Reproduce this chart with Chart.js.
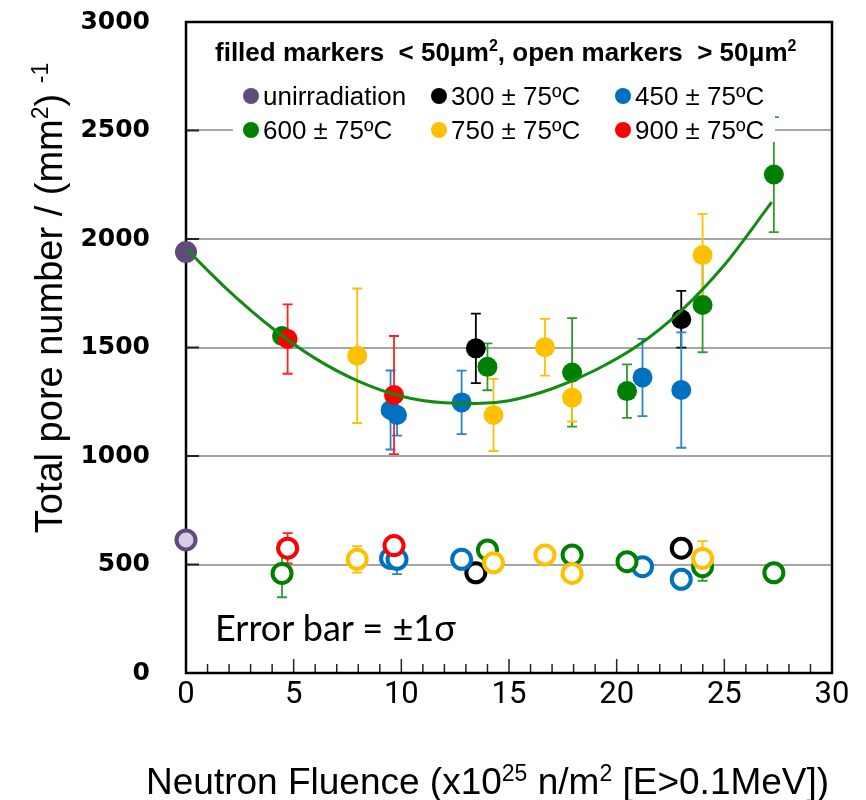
<!DOCTYPE html>
<html>
<head>
<meta charset="utf-8">
<script src="https://cdn.jsdelivr.net/npm/chart.js@4.4.1/dist/chart.umd.min.js"></script>
<style>
  body { margin: 0; background: #fff; }
  #wrap { position: relative; width: 866px; height: 800px; }
  .txt { position: absolute; white-space: nowrap; color: #000; font-family: "Liberation Sans", Arial, sans-serif; }
  .dot { position: absolute; width: 16px; height: 16px; border-radius: 50%; }
</style>
</head>
<body>
<div id="wrap">
  <canvas id="poreChart" width="866" height="800"></canvas>
  <div class="txt" id="yTitle" style="left:-260px;top:276px;width:600px;height:44px;line-height:44px;text-align:center;font-size:38px;transform:rotate(-90deg);">Total pore number / (mm<sup style="font-size:23px">2</sup>) <sup style="font-size:23px">-1</sup></div>
  <div class="txt" id="xTitle" style="left:146px;top:751px;font-size:37px;line-height:44px;">Neutron Fluence (x10<sup style="font-size:23px">25</sup> n/m<sup style="font-size:23px">2</sup> [E&gt;0.1MeV])</div>
  <div id="legendBox" style="position:absolute;left:233px;top:24px;width:542px;height:118px;background:#fff;"></div>
  <div class="txt" id="legendTitle" style="left:215px;top:30px;font-size:26px;line-height:32px;font-weight:bold;">filled markers&nbsp; &lt; 50μm<sup style="font-size:16px">2</sup>, open markers&nbsp; &gt; 50μm<sup style="font-size:16px">2</sup></div>
  <div class="txt" id="errNote" style="left:215px;top:606px;font-size:36px;line-height:42px;font-family:Lato,'Open Sans',sans-serif;">Error bar = ±1σ</div>
</div>
<script>
// group labels (temperature) and colours
const groupNames = ['unirradiation', '300 ± 75ºC', '450 ± 75ºC', '600 ± 75ºC', '750 ± 75ºC', '900 ± 75ºC'];
const groupColors = ['#604a7b', '#000000', '#0070c0', '#008000', '#ffc000', '#ff0000'];
const errColors = ['#604a7b', '#000000', '#2b82d0', '#2f9a2f', '#ffc000', '#ff2020'];

// fluence (x10^25 n/m^2) per group
const xUnirr = [0];
const x300 = [13.46, 23.0];
const x450 = [9.5, 9.8, 12.8, 21.2, 23.0];
const x600 = [4.46, 14.0, 17.93, 20.48, 23.99, 27.3];
const x750 = [7.95, 14.28, 16.67, 17.93, 23.99];
const x900 = [4.72, 9.66];

// filled markers (< 50 um2): pore number and 1 sigma
const yUnirrFilled = [1940];
const y300Filled = [1496, 1630];
const y450Filled = [1212, 1189, 1247, 1362, 1304];
const y600Filled = [1553, 1411, 1385, 1299, 1696, 2297];
const y750Filled = [1462, 1189, 1501, 1269, 1926];
const y900Filled = [1539, 1281];
const eUnirrFilled = [0];
const e300Filled = [160, 131];
const e450Filled = [182, 95, 146, 178, 266];
const e600Filled = [0, 108, 250, 123, 218, 265];
const e750Filled = [310, 166, 131, 110, 190];
const e900Filled = [160, 272];

// open markers (> 50 um2)
const yUnirrOpen = [613];
const y300Open = [462, 575];
const y450Open = [528, 524, 524, 490, 432];
const y600Open = [459, 567, 544, 513, 490, 462];
const y750Open = [524, 508, 544, 459, 528];
const y900Open = [575, 587];
const eUnirrOpen = [0];
const e300Open = [0, 0];
const e450Open = [0, 68, 0, 0, 0];
const e600Open = [110, 0, 0, 0, 65, 0];
const e750Open = [61, 0, 0, 0, 80];
const e900Open = [70, 0];

// fitted trend line
const fitFluence = [0, 2, 4, 6, 8, 10, 12, 13.5, 15, 17, 19, 21, 23, 25, 27.2];
const fitPores = [1955, 1760, 1590, 1450, 1345, 1275, 1245, 1242, 1255, 1310, 1395, 1510, 1670, 1880, 2170];

const yTicks = [0, 500, 1000, 1500, 2000, 2500, 3000];

function toPoints(xs, ys) {
    return xs.map((x, i) => ({ x: x, y: ys[i] }));
}

const groupX = [xUnirr, x300, x450, x600, x750, x900];
const groupFilled = [yUnirrFilled, y300Filled, y450Filled, y600Filled, y750Filled, y900Filled];
const groupFilledErr = [eUnirrFilled, e300Filled, e450Filled, e600Filled, e750Filled, e900Filled];
const groupOpen = [yUnirrOpen, y300Open, y450Open, y600Open, y750Open, y900Open];
const groupOpenErr = [eUnirrOpen, e300Open, e450Open, e600Open, e750Open, e900Open];

// legend entries as html text
const wrap = document.getElementById('wrap');
const legendCols = [251, 439, 623];
const legendRows = [96, 130];
groupNames.forEach((name, i) => {
    const cx = legendCols[i % 3];
    const cy = legendRows[Math.floor(i / 3)];
    const dot = document.createElement('div');
    dot.className = 'dot';
    dot.style.left = (cx - 8) + 'px';
    dot.style.top = (cy - 8) + 'px';
    dot.style.background = groupColors[i];
    wrap.appendChild(dot);
    const t = document.createElement('div');
    t.className = 'txt';
    t.style.left = (cx + 12) + 'px';
    t.style.top = (cy - 15) + 'px';
    t.style.fontSize = '26px';
    t.style.lineHeight = '30px';
    t.textContent = name;
    wrap.appendChild(t);
});

const datasets = [];
datasets.push({
    type: 'line',
    label: 'fit',
    data: toPoints(fitFluence, fitPores),
    borderColor: '#138a13',
    borderWidth: 3,
    pointRadius: 0,
    cubicInterpolationMode: 'monotone',
    fill: false,
    order: 0
});
const drawOrder = [6, 5, 4, 3, 2, 1];
groupNames.forEach((name, i) => {
    datasets.push({
        label: name + ' filled',
        data: toPoints(groupX[i], groupFilled[i]),
        errors: groupFilledErr[i],
        errColor: errColors[i],
        backgroundColor: groupColors[i],
        borderColor: groupColors[i],
        borderWidth: 0,
        pointRadius: i === 0 ? 11 : 10,
        clip: false,
        order: drawOrder[i]
    });
    datasets.push({
        label: name + ' open',
        data: toPoints(groupX[i], groupOpen[i]),
        errors: groupOpenErr[i],
        errColor: errColors[i],
        backgroundColor: i === 0 ? '#d5cde3' : '#ffffff',
        borderColor: groupColors[i],
        borderWidth: 4,
        pointRadius: 9.5,
        clip: false,
        order: drawOrder[i]
    });
});

const framePlugin = {
    id: 'frame',
    beforeDatasetsDraw(chart) {
        const ctx = chart.ctx;
        const a = chart.chartArea;
        const xs = chart.scales.x;
        const ys = chart.scales.y;
        ctx.save();
        // inward ticks on the x axis
        ctx.strokeStyle = '#222';
        ctx.lineWidth = 1.5;
        for (let v = 0; v <= 30; v++) {
            const px = xs.getPixelForValue(v);
            const len = v % 5 === 0 ? 14 : 9;
            ctx.beginPath();
            ctx.moveTo(px, a.bottom);
            ctx.lineTo(px, a.bottom - len);
            ctx.stroke();
        }
        // inward ticks on the y axis
        ctx.lineWidth = 2;
        yTicks.forEach(v => {
            const py = ys.getPixelForValue(v);
            ctx.beginPath();
            ctx.moveTo(a.left, py);
            ctx.lineTo(a.left + 13, py);
            ctx.stroke();
        });
        // plot box
        ctx.strokeStyle = '#000';
        ctx.lineWidth = 2.5;
        ctx.strokeRect(a.left, a.top, a.right - a.left, a.bottom - a.top);
        // error bars
        chart.data.datasets.forEach(ds => {
            if (!ds.errors) return;
            ctx.strokeStyle = ds.errColor;
            ctx.lineWidth = 1.8;
            ds.data.forEach((p, j) => {
                const e = ds.errors[j];
                if (!e) return;
                const px = xs.getPixelForValue(p.x);
                const top = ys.getPixelForValue(p.y + e);
                const bot = ys.getPixelForValue(p.y - e);
                ctx.beginPath();
                ctx.moveTo(px, top);
                ctx.lineTo(px, bot);
                ctx.moveTo(px - 5, top);
                ctx.lineTo(px + 5, top);
                ctx.moveTo(px - 5, bot);
                ctx.lineTo(px + 5, bot);
                ctx.stroke();
            });
        });
        ctx.restore();
    }
};

const ctx = document.getElementById('poreChart').getContext('2d');
const poreChart = new Chart(ctx, {
    type: 'scatter',
    data: { datasets: datasets },
    options: {
        responsive: false,
        animation: false,
        layout: { padding: { top: 22, right: 34, left: 0, bottom: 0 } },
        plugins: {
            legend: { display: false },
            tooltip: { enabled: false }
        },
        scales: {
            x: {
                min: 0,
                max: 30,
                afterFit: scale => {
                    scale.height = 127;
                    scale.paddingLeft = 0;
                    scale.paddingRight = 0;
                },
                border: { display: false },
                grid: { display: false, drawTicks: false },
                ticks: {
                    stepSize: 5,
                    padding: 4,
                    color: '#000',
                    font: { family: 'Roboto', size: 31 }
                }
            },
            y: {
                min: 0,
                max: 3000,
                afterFit: scale => {
                    scale.width = 186;
                    scale.paddingTop = 0;
                    scale.paddingBottom = 0;
                },
                border: { display: false },
                grid: {
                    drawTicks: false,
                    lineWidth: 2,
                    color: c => (c.tick && (c.tick.value === 0 || c.tick.value === 3000)) ? 'rgba(0,0,0,0)' : '#a6a6a6'
                },
                ticks: {
                    stepSize: 500,
                    padding: 36,
                    color: '#000',
                    font: { family: 'DejaVu Sans', size: 25, weight: 'bold' },
                    callback: v => String(v)
                }
            }
        }
    },
    plugins: [framePlugin]
});
</script>
</body>
</html>
